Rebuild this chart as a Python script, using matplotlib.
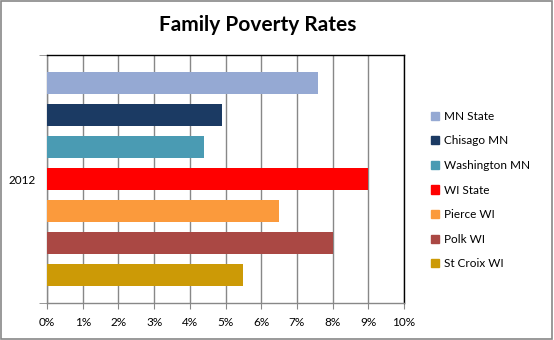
import matplotlib.pyplot as plt
from matplotlib.patches import Rectangle

plt.rcParams['font.family'] = ['Lato', 'DejaVu Sans']

# Family poverty rates, 2012 (percent)
series = ['MN State', 'Chisago MN', 'Washington MN', 'WI State', 'Pierce WI', 'Polk WI', 'St Croix WI']
rates = [7.6, 4.9, 4.4, 9.0, 6.5, 8.0, 5.5]
colors = ['#95A9D3', '#1B3A63', '#4A9BB3', '#FF0000', '#FB9A3C', '#AA4844', '#CC9A06']
category = '2012'
xticks = list(range(0, 11))

fig = plt.figure(figsize=(5.54, 3.40), dpi=100)
ax = fig.add_axes([47 / 554, 37 / 340, 357 / 554, 248 / 340])

n = len(series)
half = n / 2 + 0.375
handles = []
for i, (name, val, c) in enumerate(zip(series, rates, colors)):
    ypos = (n - 1) / 2 - i
    ax.barh(ypos, val, height=0.68, color=c, zorder=3)
    handles.append(Rectangle((0, 0), 1, 1, color=c, label=name))

ax.set_xlim(0, 10)
ax.set_ylim(-half, half)
ax.set_xticks(xticks)
ax.set_xticklabels([f'{t}%' for t in xticks], fontsize=8.5)
ax.set_yticks([0])
ax.set_yticklabels([category], fontsize=8.5)
ax.tick_params(axis='y', length=0, pad=8)
ax.set_yticks([-half, half], minor=True)
ax.tick_params(axis='y', which='minor', length=6, color='#888888')
ax.tick_params(axis='x', length=4, color='#888888', pad=6)

ax.grid(axis='x', color='#888888', linewidth=1, zorder=0)
for side in ['top', 'right']:
    ax.spines[side].set_color('black')
    ax.spines[side].set_linewidth(1)
for side in ['left', 'bottom']:
    ax.spines[side].set_color('#888888')
    ax.spines[side].set_linewidth(1)

fig.text(258 / 554, 1 - 25 / 340, 'Family Poverty Rates', ha='center', va='center',
         fontsize=15, fontweight='bold')

fig.legend(handles=handles, loc='upper left', bbox_to_anchor=(425 / 554, 1 - 105 / 340),
           frameon=False, fontsize=8.5, handlelength=0.7, handleheight=0.7,
           handletextpad=0.4, labelspacing=1.15, borderpad=0)

# outer chart border
fig.patches.append(Rectangle((0.002, 0.003), 0.995, 0.994, transform=fig.transFigure,
                             fill=False, edgecolor='#888888', linewidth=1.2))

fig.savefig('out.png', dpi=100)
